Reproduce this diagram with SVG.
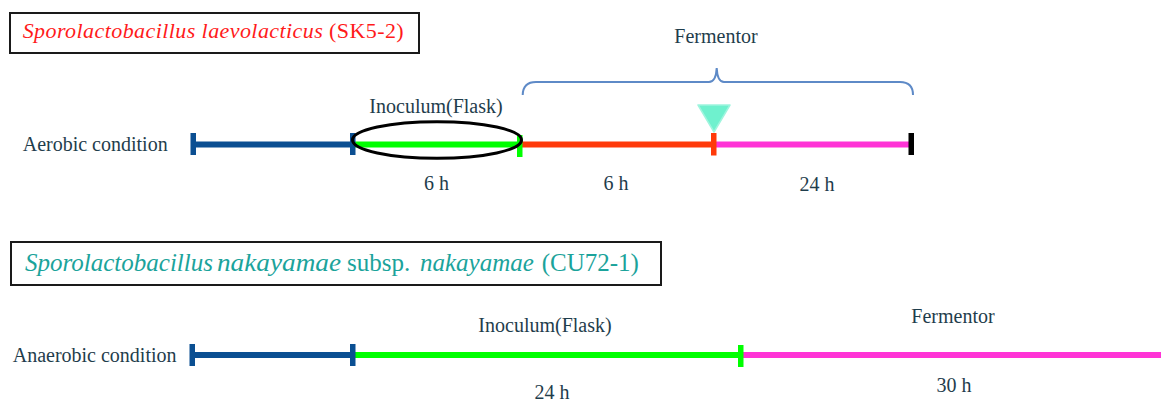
<svg xmlns="http://www.w3.org/2000/svg" width="1161" height="401" viewBox="0 0 1161 401">
<style>
.t{font-family:"Liberation Serif","Times New Roman",serif;font-size:20px;fill:#1F3D4C}
.c{text-anchor:middle}
.box{fill:#fff;stroke:#1a1a1a;stroke-width:2}
.seg{stroke-width:6;fill:none}
.blue{stroke:#0B4F92}.green{stroke:#00FF00}.red{stroke:#FF3A0A}.pink{stroke:#FF33D6}
.tb{fill:#0B4F92}.tg{fill:#00FF00}.tr{fill:#FF3A0A}.tk{fill:#000}
.r1{font-family:"Liberation Serif","Times New Roman",serif;font-size:22px;fill:#FF1A1A}
.r2{font-family:"Liberation Serif","Times New Roman",serif;font-size:25px;fill:#1BA39B}
.i{font-style:italic}
</style>
<g id="title1">
<rect class="box" x="10" y="13" width="409" height="40"/>
<text class="r1" x="22.7" y="37.5" textLength="381" lengthAdjust="spacing"><tspan class="i">Sporolactobacillus laevolacticus</tspan> (SK5-2)</text>
</g>
<g id="title2">
<rect class="box" x="11" y="242" width="650" height="43"/>
<text class="r2 i" x="25" y="270.5">Sporolactobacillus</text>
<text class="r2 i" x="217" y="270.5" textLength="124" lengthAdjust="spacingAndGlyphs">nakayamae</text>
<text class="r2" x="347" y="270.5">subsp.</text>
<text class="r2 i" x="420" y="270.5">nakayamae</text>
<text class="r2" x="541.7" y="270.5">(CU72-1)</text>
</g>
<g id="labels">
<text class="t" x="22.7" y="151">Aerobic condition</text>
<text class="t" x="12.7" y="361.5">Anaerobic condition</text>
<text class="t c" x="716" y="42.5">Fermentor</text>
<text class="t c" x="436" y="113">Inoculum(Flask)</text>
<text class="t c" x="436.5" y="189.5">6 h</text>
<text class="t c" x="616" y="189.5">6 h</text>
<text class="t c" x="817" y="190.5">24 h</text>
<text class="t c" x="545" y="331.5">Inoculum(Flask)</text>
<text class="t c" x="552" y="399">24 h</text>
<text class="t c" x="953" y="322.5">Fermentor</text>
<text class="t c" x="954" y="391.5">30 h</text>
</g>
<g id="connectors">
<line class="seg blue" x1="193" y1="144.5" x2="353" y2="144.5"/>
<line class="seg green" x1="353" y1="144.5" x2="520" y2="144.5"/>
<line class="seg red" x1="520" y1="144.5" x2="713" y2="144.5"/>
<line class="seg pink" x1="713" y1="144.5" x2="911" y2="144.5"/>
<rect class="tb" x="190.5" y="133" width="5.5" height="22"/>
<rect class="tb" x="350" y="133" width="5.5" height="22"/>
<rect class="tg" x="517" y="135" width="5.5" height="22"/>
<rect class="tr" x="711" y="133" width="5.5" height="22.5"/>
<rect class="tk" x="908.5" y="133" width="5.5" height="22"/>
<ellipse cx="437" cy="140" rx="84.5" ry="18.3" fill="none" stroke="#000" stroke-width="3"/>
<path d="M522.7,95 Q523,82 536,82 L709,82 Q716,82 716.7,68 Q717.4,82 724,82 L900,82 Q913,82 913,95" fill="none" stroke="#5E8AC7" stroke-width="2"/>
<path d="M698,105 L730,105 L714,132 Z" fill="#5FEFC9" fill-opacity="0.9" stroke="#9FF5DE" stroke-width="1.5" stroke-linejoin="round"/>
<line class="seg blue" x1="192" y1="355" x2="353" y2="355"/>
<line class="seg green" x1="353" y1="355" x2="741" y2="355"/>
<line class="seg pink" x1="741" y1="355" x2="1161" y2="355"/>
<rect class="tb" x="189.5" y="344" width="5.5" height="22"/>
<rect class="tb" x="350" y="344" width="5.5" height="22"/>
<rect class="tg" x="738" y="345" width="5.5" height="22"/>
</g>
</svg>
